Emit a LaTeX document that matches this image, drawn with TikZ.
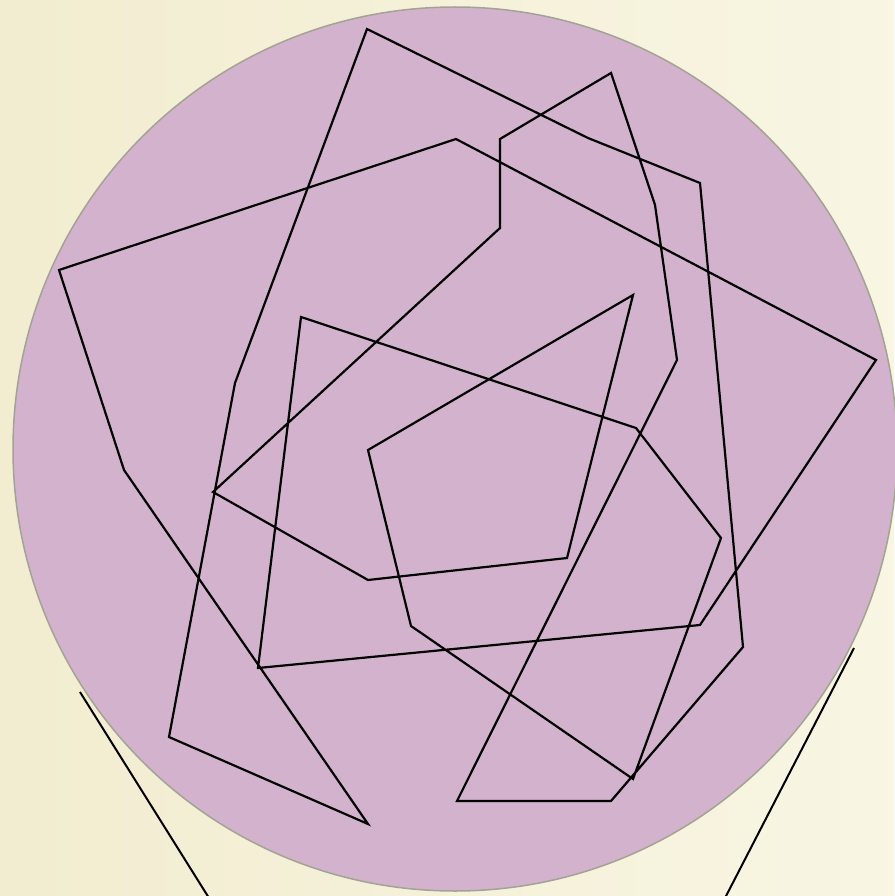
\documentclass[tikz,border=0pt]{standalone}
\definecolor{paperleft}{HTML}{F2EDD0}
\definecolor{paperright}{HTML}{F8F5E3}
\definecolor{discfill}{HTML}{D3B2CD}
\definecolor{discrim}{HTML}{A3A394}
\begin{document}
\begin{tikzpicture}[x=1pt, y=-1pt]
    % Paper background
    \shade[left color=paperleft, right color=paperright] (0,0) rectangle (894,896);
    \useasboundingbox (0,0) rectangle (894,896);

    % Disc
    \draw[line width=1.5pt, draw=discrim, fill=discfill] (455,449) circle[radius=442pt];

    % Tangent lines below the disc
    \draw[line width=2pt] (80,692) -- (209,898);
    \draw[line width=2pt] (854,648) -- (725,898);

    % Tangled polygon
    \draw[line width=2.2pt]
        (367,29) -- (588,138) -- (700,183) -- (743,647) -- (611,801)
        -- (457,801) -- (677,360) -- (655,205) -- (611,73) -- (500,139)
        -- (500,228) -- (213,492) -- (368,580) -- (567,558) -- (633,295)
        -- (368,450) -- (411,626) -- (633,779) -- (721,538) -- (636,428)
        -- (301,317) -- (258,668) -- (700,625) -- (876,360) -- (456,139)
        -- (59,270) -- (124,470) -- (368,824) -- (169,737) -- (235,383)
        -- cycle;
\end{tikzpicture}
\end{document}
